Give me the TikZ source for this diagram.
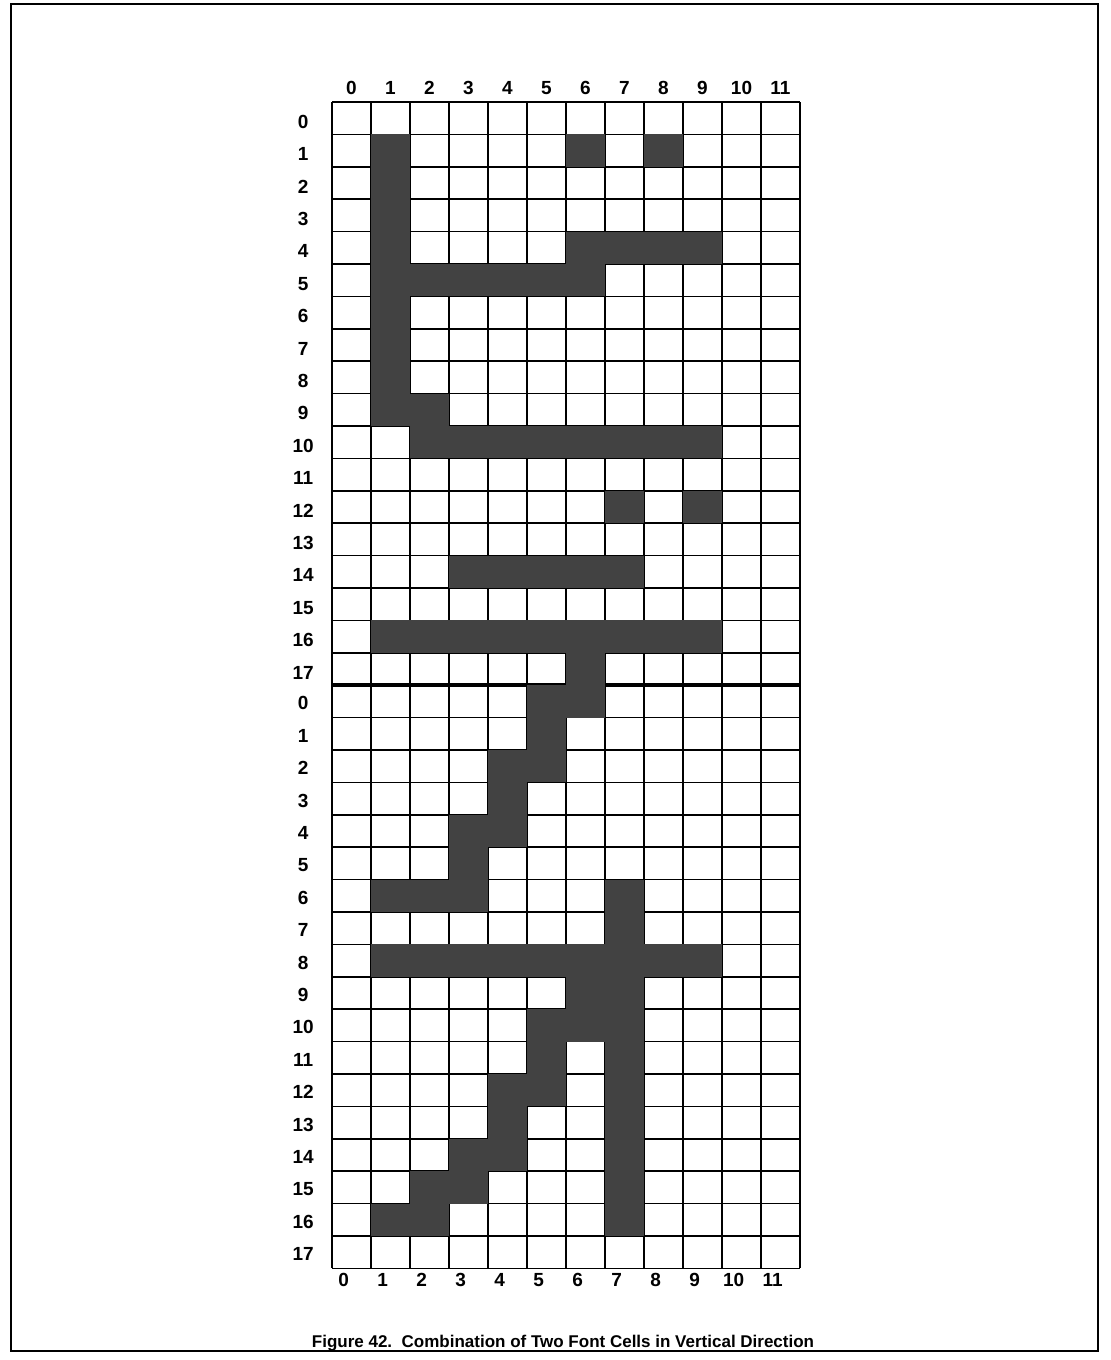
\documentclass[tikz,border=0pt]{standalone}
\usepackage{fontspec}
\setmainfont{Liberation Sans}
\begin{document}
\begin{tikzpicture}[x=0.6pt,y=-0.6pt,
  gridline/.style={line width=0.9pt,black},
  divider/.style={line width=2.2pt,black},
  frameline/.style={line width=1.6pt,black},
  cellfill/.style={fill=black!74},
  lbl/.style={inner sep=0pt,text height=8.2pt,text depth=0pt,font=\fontsize{11.4}{13}\selectfont\bfseries},
  captionstyle/.style={inner sep=0pt,font=\fontsize{10.2}{12}\selectfont\bfseries}]
\useasboundingbox (0,0) rectangle (1110,1360);
\draw[frameline] (11,4) rectangle (1098,1351);
\begin{scope}[shift={(332,102)},x=23.4pt,y=-19.44pt]
  % grid
  \foreach \i in {0,...,12} \draw[gridline] (\i,0) -- (\i,36);
  \foreach \j in {0,...,36} \draw[gridline] (0,\j) -- (12,\j);
  \draw[divider] (0,18) -- (12,18);
  % filled cells: c1/r1/c2/r2 inclusive
  \foreach \ca/\ra/\cb/\rb in {
    1/1/1/9, 6/1/6/1, 8/1/8/1, 6/4/9/4, 2/5/6/5, 2/9/2/10, 3/10/9/10,
    7/12/7/12, 9/12/9/12, 3/14/7/14, 1/16/9/16, 6/17/6/18,
    5/18/5/20, 4/20/4/22, 3/22/3/24, 1/24/2/24, 7/24/7/34, 1/26/9/26,
    6/27/6/28, 5/28/5/30, 4/30/4/32, 3/32/3/33, 2/33/2/34, 1/34/1/34}
    \fill[cellfill] (\ca,\ra) rectangle ({\cb+1},{\rb+1});
  % column labels
  \foreach \c in {0,...,11} {
    \node[lbl] (ct\c) at ({\c+0.5},-0.45) {\c};
    \node[lbl] (cb\c) at ({\c+0.3},36.35) {\c};
  }
  % row labels
  \foreach \r in {0,...,17} {
    \node[lbl] (rt\r) at (-0.74,{\r+0.6}) {\r};
    \node[lbl] (rb\r) at (-0.74,{\r+18.55}) {\r};
  }
\end{scope}
\node[captionstyle] (cap) at (563,1343) {Figure 42.\ \ Combination of Two Font Cells in Vertical Direction};
\end{tikzpicture}
\end{document}
